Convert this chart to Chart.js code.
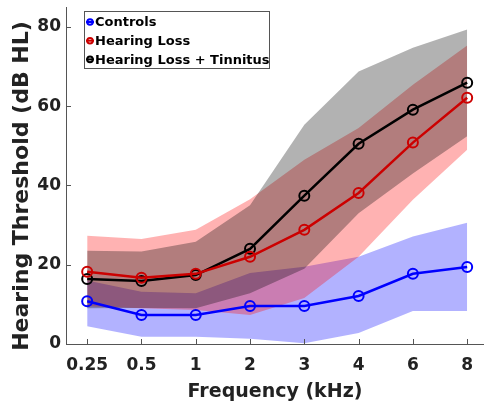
<!DOCTYPE html>
<html>
<head>
<meta charset="utf-8">
<script src="https://cdn.jsdelivr.net/npm/chart.js@4"></script>
<style>
  html, body { margin: 0; padding: 0; background: #fff; }
</style>
</head>
<body>
<canvas id="chart" width="484" height="406"></canvas>
<script>
// Frequencies (category positions 0..7 on a linear axis)
const freqLabels = ['0.25', '0.5', '1', '2', '3', '4', '6', '8'];
const yTicks = [0, 20, 40, 60, 80];

const seriesNames = ['Controls', 'Hearing Loss', 'Hearing Loss + Tinnitus'];
const lineColors = ['#0000ff', '#cc0000', '#000000'];
const bandColors = ['rgba(0,0,255,0.3)', 'rgba(255,0,0,0.3)', 'rgba(0,0,0,0.3)'];

// Mean thresholds (dB HL)
const controlsMean = [10.8, 7.3, 7.3, 9.6, 9.6, 12.1, 17.7, 19.4];
const hlMean = [18.2, 16.7, 17.7, 22.0, 28.8, 38.1, 50.8, 62.1];
const hltMean = [16.4, 15.9, 17.4, 24.0, 37.4, 50.5, 59.1, 65.9];

// Shaded spread (lower / upper)
const controlsLower = [4.5, 1.8, 1.8, 1.3, 0.2, 2.8, 8.3, 8.3];
const controlsUpper = [16.0, 13.2, 12.8, 17.9, 19.5, 22.0, 27.1, 30.6];
const hlLower = [9.5, 9.0, 8.6, 7.3, 11.6, 22.0, 36.4, 49.0];
const hlUpper = [27.3, 26.5, 28.8, 36.5, 46.5, 54.5, 65.4, 75.3];
const hltLower = [9.0, 9.1, 9.0, 12.8, 19.0, 33.0, 43.0, 52.4];
const hltUpper = [23.5, 23.3, 25.8, 35.0, 55.3, 68.7, 74.7, 79.3];

const yTitle = 'Hearing Threshold (dB HL)';
const xTitle = 'Frequency (kHz)';

const pts = arr => arr.map((v, i) => ({ x: i, y: v }));

function bandSets(lower, upper, color, ord) {
  return [
    { data: pts(lower), borderWidth: 0, pointRadius: 0, fill: false, order: ord },
    { data: pts(upper), borderWidth: 0, pointRadius: 0, fill: '-1', backgroundColor: color, order: ord }
  ];
}

function meanSet(vals, color) {
  return {
    data: pts(vals), borderColor: color, borderWidth: 2.5,
    pointRadius: 5, pointBorderWidth: 2, pointBorderColor: color,
    pointBackgroundColor: 'rgba(0,0,0,0)', fill: false, order: 0
  };
}

const datasets = [
  ...bandSets(controlsLower, controlsUpper, bandColors[0], 13),
  ...bandSets(hlLower, hlUpper, bandColors[1], 12),
  ...bandSets(hltLower, hltUpper, bandColors[2], 11),
  meanSet(controlsMean, lineColors[0]),
  meanSet(hlMean, lineColors[1]),
  meanSet(hltMean, lineColors[2])
];

const tickFont = { family: 'DejaVu Sans', weight: 'bold', size: 17 };
const textColor = '#222';

// MATLAB style: tick marks pointing into the axes
const innerTicks = {
  id: 'innerTicks',
  afterDatasetsDraw(chart) {
    const { ctx, chartArea, scales } = chart;
    ctx.save();
    ctx.strokeStyle = '#555';
    ctx.lineWidth = 1;
    ctx.beginPath();
    scales.x.ticks.forEach(t => {
      const px = Math.round(scales.x.getPixelForValue(t.value)) + 0.5;
      ctx.moveTo(px, chartArea.bottom);
      ctx.lineTo(px, chartArea.bottom - 5);
    });
    scales.y.ticks.forEach(t => {
      const py = Math.round(scales.y.getPixelForValue(t.value)) + 0.5;
      ctx.moveTo(chartArea.left, py);
      ctx.lineTo(chartArea.left + 5, py);
    });
    ctx.stroke();
    ctx.restore();
  }
};

// y title sits a little below the axis centre in the original
const yTitlePlugin = {
  id: 'yTitle',
  afterDraw(chart) {
    const { ctx } = chart;
    ctx.save();
    ctx.translate(22, 186);
    ctx.rotate(-Math.PI / 2);
    ctx.font = 'bold 22px "DejaVu Sans"';
    ctx.fillStyle = textColor;
    ctx.textAlign = 'center';
    ctx.textBaseline = 'middle';
    ctx.fillText(yTitle, 0, 0);
    ctx.restore();
  }
};

// boxed legend in the upper left of the axes
const boxLegend = {
  id: 'boxLegend',
  afterDraw(chart) {
    const { ctx, chartArea } = chart;
    const x0 = chartArea.left + 18, y0 = chartArea.top + 4;
    const w = 185, h = 57, rowH = 18.7;
    ctx.save();
    ctx.fillStyle = '#fff';
    ctx.fillRect(x0, y0, w, h);
    ctx.strokeStyle = '#555';
    ctx.lineWidth = 1;
    ctx.strokeRect(x0 + 0.5, y0 + 0.5, w, h);
    ctx.font = 'bold 13px "DejaVu Sans"';
    ctx.textBaseline = 'middle';
    seriesNames.forEach((name, i) => {
      const cy = y0 + 11 + i * rowH;
      ctx.strokeStyle = lineColors[i];
      ctx.lineWidth = 2;
      ctx.beginPath();
      ctx.moveTo(x0 + 2, cy);
      ctx.lineTo(x0 + 10, cy);
      ctx.stroke();
      ctx.beginPath();
      ctx.arc(x0 + 6, cy, 2.8, 0, Math.PI * 2);
      ctx.stroke();
      ctx.fillStyle = '#000';
      ctx.fillText(name, x0 + 11, cy + 1);
    });
    ctx.restore();
  }
};

new Chart(document.getElementById('chart'), {
  type: 'line',
  data: { datasets },
  plugins: [innerTicks, yTitlePlugin, boxLegend],
  options: {
    responsive: false,
    animation: false,
    layout: { autoPadding: false, padding: { top: 7, right: 0, left: 0, bottom: 0 } },
    elements: { line: { tension: 0 } },
    plugins: { legend: { display: false }, tooltip: { enabled: false } },
    scales: {
      x: {
        type: 'linear',
        min: -0.39,
        max: 7.31,
        afterBuildTicks: s => { s.ticks = freqLabels.map((_, i) => ({ value: i })); },
        afterFit: s => { s.height = 62; s.paddingLeft = 0; s.paddingRight = 0; },
        grid: { display: false, drawTicks: false },
        border: { color: '#555', width: 1 },
        ticks: {
          font: tickFont, color: textColor, padding: 11,
          maxRotation: 0, autoSkip: false,
          callback: v => freqLabels[v]
        },
        title: {
          display: true, text: xTitle, color: textColor,
          font: { family: 'DejaVu Sans', weight: 'bold', size: 19 },
          padding: { top: 0, bottom: 3 }
        }
      },
      y: {
        min: 0,
        max: 85,
        afterBuildTicks: s => { s.ticks = yTicks.map(v => ({ value: v })); },
        afterFit: s => { s.width = 66; s.paddingTop = 0; s.paddingBottom = 0; },
        grid: { display: false, drawTicks: false },
        border: { color: '#555', width: 1 },
        ticks: { font: tickFont, color: textColor, padding: 5 },
        title: { display: false }
      }
    }
  }
});
</script>
</body>
</html>
